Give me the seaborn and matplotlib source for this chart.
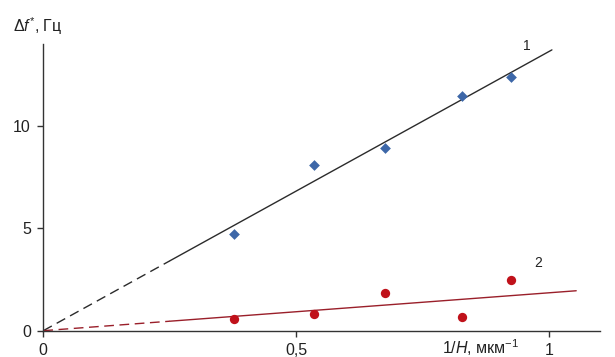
import numpy as np
import pandas as pd
import matplotlib
matplotlib.use("Agg")
import matplotlib.pyplot as plt
import seaborn as sns

# data
x_vals = [0.377, 0.534, 0.676, 0.827, 0.925]
series1 = [4.70, 8.08, 8.90, 11.46, 12.39]
series2 = [0.56, 0.83, 1.85, 0.65, 2.49]
slope1 = 13.63
slope2 = 1.85
dash_end = 0.25
fit_end1 = 1.005
fit_end2 = 1.053
xticks = [0, 0.5, 1]
xtick_labels = ["0", "0,5", "1"]
yticks = [0, 5, 10]
ytick_labels = ["0", "5", "10"]

sns.set_style("ticks")
plt.rcParams['font.family'] = ['Liberation Sans', 'DejaVu Sans']
plt.rcParams['mathtext.fontset'] = 'custom'
plt.rcParams['mathtext.rm'] = 'Liberation Sans'
plt.rcParams['mathtext.it'] = 'Liberation Sans:italic'

fig = plt.figure(figsize=(6.15, 3.57), dpi=100)
ax = fig.add_axes([0.0704, 0.0737, 0.9756 - 0.0704, 0.8776 - 0.0737])

df1 = pd.DataFrame({"x": x_vals, "y": series1})
df2 = pd.DataFrame({"x": x_vals, "y": series2})

# fit lines
dash_x = np.array([0, dash_end])
l1 = pd.DataFrame({"x": [dash_end, fit_end1], "y": [slope1 * dash_end, slope1 * fit_end1]})
l1d = pd.DataFrame({"x": dash_x, "y": slope1 * dash_x})
l2 = pd.DataFrame({"x": [dash_end, fit_end2], "y": [slope2 * dash_end, slope2 * fit_end2]})
l2d = pd.DataFrame({"x": dash_x, "y": slope2 * dash_x})

sns.lineplot(data=l1, x="x", y="y", ax=ax, color="#2b2b2b", lw=1.0)
sns.lineplot(data=l1d, x="x", y="y", ax=ax, color="#2b2b2b", lw=1.0, linestyle=(0, (7, 4)))
sns.lineplot(data=l2, x="x", y="y", ax=ax, color="#9a1f2a", lw=1.0)
sns.lineplot(data=l2d, x="x", y="y", ax=ax, color="#9a1f2a", lw=1.0, linestyle=(0, (7, 4)))

sns.scatterplot(data=df1, x="x", y="y", ax=ax, marker="D", s=30, color="#3d67a8", edgecolor="#3d67a8", linewidth=0, zorder=3)
sns.scatterplot(data=df2, x="x", y="y", ax=ax, marker="o", s=45, color="#c0111a", edgecolor="#c0111a", linewidth=0, zorder=3)

ax.set_xlim(0, 1.1)
ax.set_ylim(0, 14)
ax.set_xticks(xticks)
ax.set_xticklabels(xtick_labels, fontsize=11.5, color="#222222")
ax.set_yticks(yticks)
ax.set_yticklabels(ytick_labels, fontsize=11.5, color="#222222")
ax.tick_params(axis="both", length=4, width=1, color="#333333", pad=5)
ax.set_xlabel("")
ax.set_ylabel("")
for s in ["top", "right"]:
    ax.spines[s].set_visible(False)
for s in ["left", "bottom"]:
    ax.spines[s].set_color("#333333")
    ax.spines[s].set_linewidth(1.0)

ax.text(0.955, 13.9, "1", fontsize=10, color="#222222", ha="center", va="center")
ax.text(0.978, 3.3, "2", fontsize=10, color="#222222", ha="center", va="center")

fig.text(13 / 615, 1 - 26 / 357, r"Δ$f^{*}$, Гц", fontsize=11.5, color="#222222", ha="left", va="center")
fig.text(481 / 615, 1 - 348 / 357, r"1/$H$, мкм$^{-1}$", fontsize=11.5, color="#222222", ha="center", va="center")

fig.savefig("out.png", dpi=100)
